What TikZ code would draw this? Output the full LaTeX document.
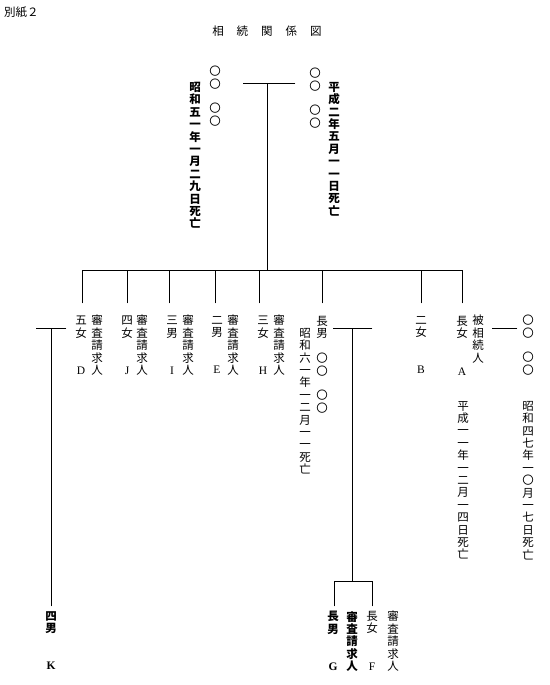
\documentclass[tikz,border=0pt]{standalone}
\usepackage{fontspec}
\newfontfamily\jp{Noto Sans CJK JP}
\newfontfamily\lat{Liberation Serif}
\tikzset{
  vt/.style={anchor=north, inner sep=0pt, align=center,
    font=\jp\fontsize{11.5}{12.4}\selectfont,
    execute at begin node={\rule{0pt}{9.3pt}}},
  vtb/.style={vt, font=\jp\bfseries\fontsize{11.5}{12.4}\selectfont},
  ln/.style={line width=0.8pt, line cap=rect},
  hz/.style={inner sep=0pt, font=\jp\fontsize{11.5}{13}\selectfont},
}
\begin{document}
\begin{tikzpicture}[x=1pt,y=1pt]
\useasboundingbox (0,0) rectangle (549,-685);
% headings
\node[hz, anchor=west] (bessi) at (4,-12) {別紙２};
\node[hz] (title) at (267,-31) {相\hskip13pt 続\hskip13pt 関\hskip13pt 係\hskip13pt 図};
% parents
\node[vt] (pL) at (215,-66) {〇\\〇\\　\\〇\\〇};
\node[vtb] (dL) at (195,-82) {昭\\和\\五\\一\\年\\一\\月\\二\\九\\日\\死\\亡};
\node[vt] (pR) at (315,-68) {〇\\〇\\　\\〇\\〇};
\node[vtb] (dR) at (334,-82) {平\\成\\二\\年\\五\\月\\一\\一\\日\\死\\亡};
% children
\node[vt] (cD) at (81,-316) {五\\女\\　\\　\\{\lat D}};
\node[vt] (sD) at (97,-315) {審\\査\\請\\求\\人};
\node[vt] (cJ) at (127,-316) {四\\女\\　\\　\\{\lat J}};
\node[vt] (sJ) at (142,-315) {審\\査\\請\\求\\人};
\node[vt] (cI) at (172,-316) {三\\男\\　\\　\\{\lat I}};
\node[vt] (sI) at (188,-315) {審\\査\\請\\求\\人};
\node[vt] (cE) at (217,-316) {二\\男\\　\\　\\{\lat E}};
\node[vt] (sE) at (233,-315) {審\\査\\請\\求\\人};
\node[vt] (cH) at (263,-316) {三\\女\\　\\　\\{\lat H}};
\node[vt] (sH) at (279,-315) {審\\査\\請\\求\\人};
\node[vt] (cC) at (322,-316) {長\\男\\　\\〇\\〇\\　\\〇\\〇};
\node[vt] (dC) at (305,-328) {昭\\和\\六\\一\\年\\一\\二\\月\\一\\一\\死\\亡};
\node[vt] (cB) at (421,-316) {二\\女\\　\\　\\{\lat B}};
\node[vt] (cA) at (462,-316) {長\\女\\　\\　\\{\lat A}};
\node[vt] (dA) at (463,-401) {平\\成\\一\\一\\年\\一\\二\\月\\一\\四\\日\\死\\亡};
\node[vt] (hi) at (478,-315) {被\\相\\続\\人};
\node[vt] (sp) at (528,-315) {〇\\〇\\　\\〇\\〇};
\node[vt] (dsp) at (528,-401) {昭\\和\\四\\七\\年\\一\\〇\\月\\一\\七\\日\\死\\亡};
% grandchildren
\node[vtb] (cK) at (51,-611) {四\\男\\　\\　\\{\lat K}};
\node[vtb] (cG) at (333,-611) {長\\男\\　\\　\\{\lat G}};
\node[vtb] (sG) at (352,-611) {審\\査\\請\\求\\人};
\node[vt] (cF) at (372,-611) {長\\女\\　\\　\\{\lat F}};
\node[vt] (sF) at (393,-611) {審\\査\\請\\求\\人};
% junction coordinates
\coordinate (mL) at (243,-83);
\coordinate (mR) at (295,-83);
\coordinate (mC) at (267,-83);
\coordinate (sC) at (267,-270);
\coordinate (sL) at (82,-270);
\coordinate (sR) at (462,-270);
\coordinate (gL) at (333,-328);
\coordinate (gR) at (372,-328);
\coordinate (gC) at (352,-328);
\coordinate (gB) at (352,-581);
\coordinate (bL) at (334,-581);
\coordinate (bR) at (372,-581);
\coordinate (kL) at (36,-328);
\coordinate (kR) at (66,-328);
\coordinate (kC) at (51,-328);
\coordinate (hL) at (492,-328);
\coordinate (hR) at (517,-328);
% connectors
\draw[ln] (mL) -- (mR);
\draw[ln] (mC) -- (sC);
\draw[ln] (sL) -- (sR);
\draw[ln] ([xshift=1pt]cD.north |- sL) -- ([xshift=1pt,yshift=13pt]cD.north);
\draw[ln] (cJ.north |- sL) -- ([yshift=13pt]cJ.north);
\draw[ln] ([xshift=-3pt]cI.north |- sL) -- ([xshift=-3pt,yshift=13pt]cI.north);
\draw[ln] ([xshift=-2pt]cE.north |- sL) -- ([xshift=-2pt,yshift=13pt]cE.north);
\draw[ln] ([xshift=-4pt]cH.north |- sL) -- ([xshift=-4pt,yshift=13pt]cH.north);
\draw[ln] (cC.north |- sL) -- ([yshift=13pt]cC.north);
\draw[ln] (cB.north |- sL) -- ([yshift=13pt]cB.north);
\draw[ln] (cA.north |- sL) -- ([yshift=13pt]cA.north);
\draw[ln] (gL) -- (gR);
\draw[ln] (gC) -- (gB);
\draw[ln] (bL) -- (bR);
\draw[ln] (bL) -- ([xshift=1pt,yshift=5pt]cG.north);
\draw[ln] (bR) -- ([yshift=5pt]cF.north);
\draw[ln] (kL) -- (kR);
\draw[ln] (kC) -- ([yshift=5pt]cK.north);
\draw[ln] (hL) -- (hR);
\end{tikzpicture}
\end{document}
